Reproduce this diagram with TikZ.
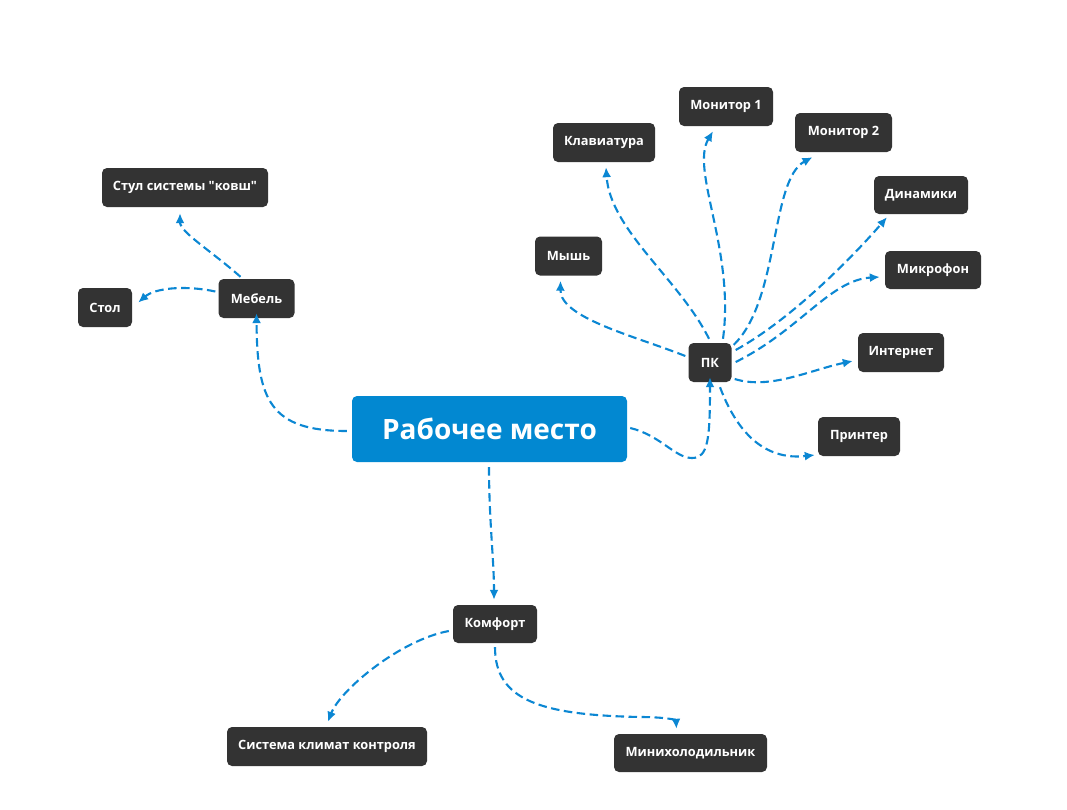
\documentclass[tikz,border=0pt]{standalone}
\usepackage{fontspec}
\setmainfont{Open Sans}[Ligatures=TeXOff]
\usetikzlibrary{arrows.meta}
\definecolor{mainblue}{HTML}{0288D1}
\definecolor{linkblue}{HTML}{0B87D3}
\definecolor{boxdark}{HTML}{333333}
\begin{document}
\begin{tikzpicture}[x=1pt,y=-1pt,
  leaf/.style={fill=boxdark,draw=none,rounded corners=5pt,text=white,inner sep=0pt,
    font=\bfseries\fontsize{12.8}{14}\selectfont},
  rootbox/.style={fill=mainblue,draw=none,rounded corners=5pt,text=white,inner sep=0pt,
    font=\bfseries\fontsize{28}{32}\selectfont},
  con/.style={draw=linkblue,line width=2.1pt,dash pattern=on 8.5pt off 4.5pt,
    -{Latex[length=10pt,width=9pt]}}]
\fill[white] (0,0) rectangle (1067,809);
\useasboundingbox (0,0) rectangle (1067,809);
% nodes
\node[rootbox,minimum width=275pt,minimum height=66pt] (main) at (489.5,429) {Рабочее место};
\node[leaf,minimum width=43pt,minimum height=39pt] (pk) at (710,362.5) {ПК};
\node[leaf,minimum width=76pt,minimum height=39pt] (mebel) at (256.5,298.5) {Мебель};
\node[leaf,minimum width=54pt,minimum height=39pt] (stol) at (105,307.5) {Стол};
\node[leaf,minimum width=166pt,minimum height=39pt] (stul) at (185,187.5) {Стул системы "ковш"};
\node[leaf,minimum width=67pt,minimum height=39pt] (mysh) at (568.5,256) {Мышь};
\node[leaf,minimum width=102pt,minimum height=39pt] (klav) at (604,142.5) {Клавиатура};
\node[leaf,minimum width=94pt,minimum height=39pt] (mon1) at (726,106.5) {Монитор 1};
\node[leaf,minimum width=97pt,minimum height=39pt] (mon2) at (843.5,132.5) {Монитор 2};
\node[leaf,minimum width=94pt,minimum height=38pt] (din) at (921,195) {Динамики};
\node[leaf,minimum width=96pt,minimum height=38pt] (mic) at (933,270) {Микрофон};
\node[leaf,minimum width=86pt,minimum height=39pt] (inet) at (901,352.5) {Интернет};
\node[leaf,minimum width=82pt,minimum height=39pt] (printer) at (859,436.5) {Принтер};
\node[leaf,minimum width=84pt,minimum height=38pt] (komfort) at (495,624) {Комфорт};
\node[leaf,minimum width=200pt,minimum height=39pt] (sys) at (327,746.5) {Система климат контроля};
\node[leaf,minimum width=153pt,minimum height=38pt] (mini) at (690.5,753) {Минихолодильник};
% connectors
\draw[con] ([shift={(-5,2)}]main.west) .. controls (270,431) and (257,400) .. ([yshift=5]mebel.south);
\draw[con] ([shift={(-16,-2)}]mebel.north) .. controls (210,250) and (180,232) .. ([shift={(-5,6)}]stul.south);
\draw[con] ([shift={(-3,-7)}]mebel.west) .. controls (185,285) and (155,288) .. ([shift={(6,-5)}]stol.east);
\draw[con] ([shift={(3,-1)}]main.east) .. controls (660,435) and (675,458) .. (692,458)
  .. controls (708,458) and (710,440) .. ([yshift=5]pk.south);
\draw[con] ([shift={(-0.5,5)}]main.south) .. controls (489,520) and (494,560) .. ([shift={(-1,-5)}]komfort.north);
\draw[con] ([shift={(-4,7)}]komfort.west) .. controls (400,640) and (340,690) .. ([shift={(1,-5)}]sys.north);
\draw[con] ([shift={(0,4)}]komfort.south) .. controls (495,700) and (540,715) .. (640,717)
  .. controls (665,717) and (676,720) .. ([shift={(-14,-5)}]mini.north);
\draw[con] ([shift={(-3,-6.5)}]pk.west) .. controls (635,336) and (560,318) .. ([shift={(-8,5)}]mysh.south);
\draw[con] ([shift={(-1,-4)}]pk.north) .. controls (680,280) and (610,230) .. ([shift={(2,5)}]klav.south);
\draw[con] ([shift={(13,-4)}]pk.north) .. controls (735,250) and (690,170) .. ([shift={(-13,5)}]mon1.south);
\draw[con] ([shift={(2,2)}]pk.north east) .. controls (780,300) and (770,180) .. ([shift={(-31,5)}]mon2.south);
\draw[con] ([shift={(4,-12.5)}]pk.east) .. controls (790,320) and (850,260) .. ([shift={(-34,3)}]din.south);
\draw[con] ([shift={(4,-0.5)}]pk.east) .. controls (800,330) and (830,280) .. ([shift={(-5,7)}]mic.west);
\draw[con] ([shift={(3,16.5)}]pk.east) .. controls (770,390) and (810,370) .. ([shift={(-5,8.5)}]inet.west);
\draw[con] ([shift={(10,5)}]pk.south) .. controls (740,440) and (770,460) .. ([shift={(-3,18.5)}]printer.west);
\end{tikzpicture}
\end{document}
